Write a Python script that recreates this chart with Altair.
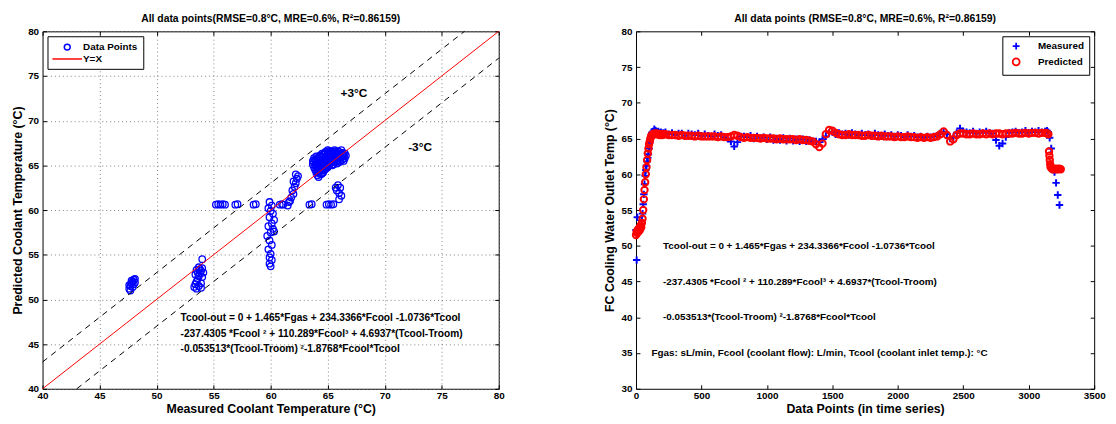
import altair as alt
import pandas as pd

FONT = "Liberation Sans"

# ---------------- Left panel data (measured vs predicted) ----------------
cluster1_meas = [47.6, 47.7, 47.8, 47.9, 48.0, 48.1, 47.7, 47.9, 48.0, 47.8, 47.6, 48.1]
cluster1_pred = [51.2, 51.5, 51.8, 52.0, 52.2, 52.3, 51.0, 51.4, 51.7, 52.1, 51.6, 51.9]
cluster2_meas = [53.3, 53.4, 53.5, 53.6, 53.7, 53.8, 53.9, 54.0, 53.5, 53.7, 53.9, 54.0, 53.4, 53.6, 53.8, 54.1, 53.5, 53.7, 54.0, 53.9]
cluster2_pred = [51.4, 51.7, 52.0, 52.3, 52.6, 52.9, 53.2, 53.5, 51.2, 51.5, 51.8, 52.5, 52.8, 53.0, 53.4, 53.0, 53.3, 53.6, 54.5, 51.3]
row_meas = [55.2, 55.4, 55.6, 55.8, 56.0, 56.9, 57.1, 58.5, 58.7, 60.8, 61.0, 63.4, 63.6, 64.9, 65.1, 65.3, 65.5]
row_pred = [60.6, 60.65, 60.6, 60.65, 60.6, 60.6, 60.65, 60.6, 60.65, 60.6, 60.65, 60.6, 60.65, 60.6, 60.65, 60.6, 60.65]
col_meas = [59.9, 60.1, 59.8, 60.0, 60.2, 59.9, 60.3, 60.1, 59.8, 60.2, 60.0, 59.7, 59.9, 60.1, 59.8, 60.0, 59.9, 60.1, 59.9, 60.0, 60.3]
col_pred = [60.9, 60.5, 60.2, 59.9, 59.6, 59.2, 58.9, 58.5, 58.2, 57.9, 57.5, 57.1, 56.6, 56.1, 55.6, 55.1, 54.7, 54.4, 54.0, 53.7, 57.6]
diag_meas = [61.1, 61.5, 61.7, 61.8, 62.0, 61.9, 62.1, 62.2, 62.0, 62.3, 62.4, 62.2, 61.6]
diag_pred = [60.6, 60.5, 61.0, 61.4, 61.8, 62.2, 62.6, 63.0, 63.2, 63.5, 63.8, 64.0, 60.9]
side_meas = [65.9, 66.1, 65.8, 66.0, 66.2, 66.0, 65.7]
side_pred = [62.8, 62.5, 62.2, 61.9, 61.6, 61.2, 62.5]
main_meas = [64.8, 65.1, 65.4, 65.7, 66.0, 66.3,
             64.3, 64.6, 64.9, 65.2, 65.5, 65.8, 66.1, 66.4, 66.6,
             63.8, 64.1, 64.4, 64.7, 65.0, 65.3, 65.6, 65.9, 66.2, 66.5,
             63.7, 64.0, 64.3, 64.6, 64.9, 65.2, 65.5, 65.8, 66.1, 66.4,
             63.7, 64.0, 64.3, 64.6, 64.9, 65.2, 65.5, 65.8,
             63.8, 64.1, 64.4, 64.7, 65.0,
             63.9, 64.2, 64.5, 64.8,
             64.0, 64.3, 64.6,
             64.1, 64.4,
             64.2]
main_pred = [66.5, 66.6, 66.5, 66.6, 66.5, 66.4,
             66.1, 66.2, 66.1, 66.2, 66.1, 66.2, 66.1, 66.2, 66.1,
             65.8, 65.8, 65.9, 65.8, 65.9, 65.8, 65.9, 65.8, 65.9, 65.8,
             65.5, 65.5, 65.4, 65.5, 65.4, 65.5, 65.4, 65.5, 65.4, 65.5,
             65.1, 65.2, 65.1, 65.2, 65.1, 65.2, 65.1, 65.2,
             64.8, 64.9, 64.8, 64.9, 64.8,
             64.5, 64.6, 64.5, 64.6,
             64.2, 64.3, 64.2,
             63.9, 64.0,
             63.7]
main2_meas = [65.0, 65.3, 65.6, 65.9, 66.2,
              64.5, 64.8, 65.1, 65.4, 65.7, 66.0, 66.3, 66.5,
              64.0, 64.3, 64.6, 64.9, 65.2, 65.5, 65.8, 66.1, 66.4,
              63.9, 64.2, 64.5, 64.8, 65.1, 65.4, 65.7, 66.0, 66.3,
              63.8, 64.1, 64.4, 64.7, 65.0, 65.3, 65.6, 65.9,
              63.9, 64.2, 64.5, 64.8, 65.1, 65.4,
              64.0, 64.3, 64.6, 64.9,
              64.1, 64.4, 64.7,
              64.2, 64.5]
main2_pred = [66.7, 66.6, 66.7, 66.6, 66.7,
              66.3, 66.35, 66.3, 66.35, 66.3, 66.35, 66.3, 66.35,
              66.0, 65.95, 66.0, 65.95, 66.0, 65.95, 66.0, 65.95, 66.0,
              65.65, 65.6, 65.65, 65.6, 65.65, 65.6, 65.65, 65.6, 65.65,
              65.35, 65.3, 65.35, 65.3, 65.35, 65.3, 65.35, 65.3,
              65.05, 65.0, 65.05, 65.0, 65.05, 65.0,
              64.75, 64.7, 64.75, 64.7,
              64.45, 64.4, 64.45,
              64.15, 64.1]

left_ticks = [40, 45, 50, 55, 60, 65, 70, 75, 80]
yx_line = [40, 80]
plus3_x = [40, 77]
plus3_y = [43, 80]
minus3_x = [43, 80]
minus3_y = [40, 77]
band_labels = ["+3°C", "-3°C"]
band_label_x = [67.3, 73.1]
band_label_y = [73.1, 67.0]
eq_lines = ["Tcool-out = 0 + 1.465*Fgas + 234.3366*Fcool -1.0736*Tcool",
            "-237.4305 *Fcool ² + 110.289*Fcool³ + 4.6937*(Tcool-Troom)",
            "-0.053513*(Tcool-Troom) ²-1.8768*Fcool*Tcool"]
eq_left_x = [52.1, 52.1, 52.1]
eq_left_y = [47.9, 46.15, 44.4]

# ---------------- Right panel data (time series) ----------------
start_idx = [0, 5, 10, 15, 20, 25, 30, 35, 40, 45, 50, 55, 60, 65, 70, 75, 80, 85, 90, 95,
             100, 105, 110, 115, 120, 130, 140, 150, 160, 170, 180, 190, 200, 210]
pred_start = [51.5, 52.0, 51.8, 52.3, 52.0, 52.5, 52.2, 52.8, 52.6, 53.2, 53.8, 55.0, 56.5, 57.8, 58.9, 60.0, 61.0, 62.0, 62.9, 63.6,
              64.2, 64.6, 65.0, 65.3, 65.5, 65.6, 65.7, 65.6, 65.7, 65.6, 65.5, 65.6, 65.5, 65.6]
meas_start = [52.2, 48.0, 54.0, 51.8, 52.3, 52.0, 52.6, 52.4, 53.0, 53.5, 54.5, 55.8, 57.2, 58.6, 59.8, 60.6, 61.2, 61.8, 62.3, 62.8,
              63.6, 64.4, 65.0, 65.5, 65.8, 66.0, 66.3, 66.1, 65.9, 66.0, 65.8, 65.9, 65.7, 65.8]

flat_idx = list(range(225, 3126, 25))
pred_flat = [65.6, 65.5, 65.5, 65.5, 65.4, 65.5, 65.4, 65.4, 65.4, 65.3,
             65.4, 65.3, 65.3, 65.3, 65.3, 65.3, 65.2, 65.3, 65.2, 65.2,
             65.3, 65.5, 65.4, 65.2, 65.1, 65.2, 65.1, 65.1, 65.1, 65.0,
             65.1, 65.0, 65.0, 65.0, 64.9, 65.0, 64.9, 64.9, 64.9, 64.9,
             64.8, 64.9, 64.8, 64.8, 64.7, 64.6, 64.2, 63.8, 64.3, 65.6,
             66.2, 66.1, 65.8, 65.6, 65.5, 65.5, 65.6, 65.5, 65.5, 65.5,
             65.4, 65.4, 65.5, 65.4, 65.4, 65.3, 65.4, 65.3, 65.3, 65.3,
             65.2, 65.3, 65.2, 65.2, 65.3, 65.2, 65.2, 65.1, 65.2, 65.1,
             65.2, 65.1, 65.2, 65.3, 65.6, 66.0, 65.5, 64.6, 64.9, 65.5,
             65.7, 65.7, 65.6, 65.6, 65.7, 65.6, 65.6, 65.7, 65.6, 65.7,
             65.6, 65.7, 65.7, 65.6, 65.7, 65.7, 65.7, 65.8, 65.7, 65.7,
             65.8, 65.7, 65.8, 65.8, 65.7, 65.8, 65.8]
meas_flat = [65.9, 65.6, 65.8, 65.5, 65.7, 65.7, 65.4, 65.7, 65.6, 65.5,
             65.7, 65.4, 65.6, 65.4, 65.3, 65.6, 65.4, 65.5, 65.2, 65.0,
             64.6, 63.9, 64.5, 65.3, 65.3, 65.2, 65.4, 65.0, 65.3, 65.1,
             65.2, 64.9, 65.2, 64.8, 65.0, 64.8, 65.1, 64.7, 65.0, 64.7,
             64.9, 64.6, 64.9, 64.6, 64.8, 64.6, 64.6, 64.5, 64.9, 65.3,
             65.8, 65.9, 65.6, 65.8, 65.6, 65.7, 65.5, 65.8, 65.6, 65.5,
             65.7, 65.5, 65.6, 65.4, 65.7, 65.5, 65.4, 65.6, 65.4, 65.5,
             65.3, 65.5, 65.4, 65.2, 65.5, 65.3, 65.4, 65.2, 65.3, 65.1,
             65.3, 65.2, 65.3, 65.4, 65.7, 65.9, 65.6, 65.0, 65.2, 65.8,
             66.4, 66.0, 65.9, 65.8, 66.0, 65.7, 65.9, 65.8, 66.0, 65.8,
             65.7, 64.8, 64.0, 64.3, 65.2, 65.8, 65.9, 66.0, 65.8, 65.9,
             66.1, 65.8, 66.0, 65.9, 66.1, 65.9, 66.0]

pred_end_idx = [3140, 3150, 3155, 3158, 3161, 3164, 3167, 3175, 3185, 3195, 3205, 3215, 3225, 3235, 3245]
pred_end = [65.7, 65.6, 63.2, 62.6, 62.0, 61.4, 61.0, 60.8, 60.7, 60.8, 60.7, 60.8, 60.7, 60.8, 60.7]
meas_end_idx = [3140, 3150, 3160, 3172, 3186, 3197, 3209, 3222, 3235]
meas_end = [66.1, 65.9, 65.1, 63.6, 61.0, 60.3, 58.8, 57.1, 55.7]

right_x_ticks = [0, 500, 1000, 1500, 2000, 2500, 3000, 3500]
right_y_ticks = [30, 35, 40, 45, 50, 55, 60, 65, 70, 75, 80]
eq_right_lines = eq_lines + ["Fgas: sL/min,  Fcool (coolant flow): L/min, Tcool (coolant inlet temp.): °C"]
eq_right_x = [206, 206, 206, 118]
eq_right_y = [50, 45, 40, 35]

# ---------------- Build tables ----------------
left_pts = pd.DataFrame({
    "measured": cluster1_meas + cluster2_meas + row_meas + col_meas + diag_meas + side_meas + main_meas + main2_meas,
    "predicted": cluster1_pred + cluster2_pred + row_pred + col_pred + diag_pred + side_pred + main_pred + main2_pred,
})
left_pts["series"] = "Data Points"
yx_df = pd.DataFrame({"x": yx_line, "y": yx_line, "series": ["Y=X", "Y=X"]})
p3_df = pd.DataFrame({"x": plus3_x, "y": plus3_y})
m3_df = pd.DataFrame({"x": minus3_x, "y": minus3_y})
band_df = pd.DataFrame({"x": band_label_x, "y": band_label_y, "t": band_labels})
eqL_df = pd.DataFrame({"x": eq_left_x, "y": eq_left_y, "t": eq_lines})

meas_df = pd.DataFrame({"idx": start_idx + flat_idx + meas_end_idx,
                        "val": meas_start + meas_flat + meas_end})
meas_df["kind"] = "Measured"
pred_df = pd.DataFrame({"idx": start_idx + flat_idx + pred_end_idx,
                        "val": pred_start + pred_flat + pred_end})
pred_df["kind"] = "Predicted"
eqR_df = pd.DataFrame({"x": eq_right_x, "y": eq_right_y, "t": eq_right_lines})

CIRCLE = "M0.6,0A0.6,0.6,0,1,1,-0.6,0A0.6,0.6,0,1,1,0.6,0Z"
HLINE = "M-3,0H3"
PLUS = "M-1,0H1M0,-1V1"


def inner_axis(orient, values):
    return alt.Axis(orient=orient, values=values, labels=False, ticks=True, tickSize=4,
                    offset=-4, domain=False, grid=False, title=None,
                    tickColor="black", tickWidth=1)


# ---------------- Left chart ----------------
lx = alt.Scale(domain=[40, 80], nice=False)
ly = alt.Scale(domain=[40, 80], nice=False)
l_color = alt.Scale(domain=["Data Points", "Y=X"], range=["#0000ff", "#ff0000"])
l_shape = alt.Scale(domain=["Data Points", "Y=X"], range=[CIRCLE, HLINE])
l_legend = alt.Legend(title=None, orient="top-left", offset=5, symbolSize=100,
                      symbolOffset=9, labelOffset=10, rowPadding=0, padding=5,
                      symbolStrokeWidth=1.5)

L1 = alt.Chart(left_pts).mark_point(filled=False, size=121, strokeWidth=1.3, opacity=1).encode(
    x=alt.X("measured:Q", scale=lx,
            axis=alt.Axis(orient="bottom", values=left_ticks, ticks=False, domain=False, grid=True,
                          title="Measured Coolant Temperature (°C)", labelPadding=2, titlePadding=2,
                          labelFlush=False, format="d")),
    y=alt.Y("predicted:Q", scale=ly,
            axis=alt.Axis(orient="left", values=left_ticks, ticks=False, domain=False, grid=True,
                          title="Predicted Coolant Temperature (°C)", labelPadding=4, titlePadding=3,
                          labelFlush=False, format="d")),
    color=alt.Color("series:N", scale=l_color, legend=l_legend),
    shape=alt.Shape("series:N", scale=l_shape, legend=l_legend),
)
L2 = alt.Chart(yx_df).mark_line(strokeWidth=1).encode(
    x=alt.X("x:Q", scale=lx, axis=inner_axis("top", left_ticks)),
    y=alt.Y("y:Q", scale=ly, axis=inner_axis("right", left_ticks)),
    color=alt.Color("series:N", scale=l_color, legend=l_legend),
)
L3 = alt.Chart(p3_df).mark_line(strokeWidth=1, strokeDash=[6, 5], color="black").encode(
    x=alt.X("x:Q", scale=lx, axis=inner_axis("bottom", left_ticks)),
    y=alt.Y("y:Q", scale=ly, axis=inner_axis("left", left_ticks)),
)
L4 = alt.Chart(m3_df).mark_line(strokeWidth=1, strokeDash=[6, 5], color="black").encode(
    x=alt.X("x:Q", scale=lx, axis=None),
    y=alt.Y("y:Q", scale=ly, axis=None),
)
L5 = alt.Chart(band_df).mark_text(font=FONT, fontSize=12, fontWeight="bold", color="black").encode(
    x=alt.X("x:Q", scale=lx, axis=None),
    y=alt.Y("y:Q", scale=ly, axis=None),
    text="t:N",
)
L6 = alt.Chart(eqL_df).mark_text(font=FONT, fontSize=10.3, fontWeight="bold", color="black",
                                 align="left", baseline="middle").encode(
    x=alt.X("x:Q", scale=lx, axis=None),
    y=alt.Y("y:Q", scale=ly, axis=None),
    text="t:N",
)
left = alt.layer(L1, L2, L3, L4, L5, L6).resolve_axis(x="independent", y="independent").properties(
    width=462, height=362,
    title=alt.TitleParams("All data points(RMSE=0.8°C, MRE=0.6%,  R²=0.86159)", font=FONT,
                          fontSize=10.5, fontWeight="bold", offset=2, anchor="middle"),
)

# ---------------- Right chart ----------------
rx = alt.Scale(domain=[0, 3500], nice=False)
ry = alt.Scale(domain=[30, 80], nice=False)
r_color = alt.Scale(domain=["Measured", "Predicted"], range=["#0000ff", "#ff0000"])
r_shape = alt.Scale(domain=["Measured", "Predicted"], range=[PLUS, "circle"])
r_legend = alt.Legend(title=None, orient="top-right", offset=5, symbolSize=49,
                      symbolOffset=4, labelOffset=17, rowPadding=0, padding=5,
                      symbolStrokeWidth=1.8)

R1 = alt.Chart(meas_df).mark_point(filled=False, size=56, strokeWidth=2, opacity=1).encode(
    x=alt.X("idx:Q", scale=rx,
            axis=alt.Axis(orient="bottom", values=right_x_ticks, ticks=False, domain=False, grid=False,
                          title="Data Points (in time series)", labelPadding=2, titlePadding=2,
                          labelFlush=False, format="d")),
    y=alt.Y("val:Q", scale=ry,
            axis=alt.Axis(orient="left", values=right_y_ticks, ticks=False, domain=False, grid=False,
                          title="FC Cooling Water Outlet Temp (°C)", labelPadding=4, titlePadding=5,
                          labelFlush=False, format="d")),
    color=alt.Color("kind:N", scale=r_color, legend=r_legend),
    shape=alt.Shape("kind:N", scale=r_shape, legend=r_legend),
)
R2 = alt.Chart(pred_df).mark_point(filled=False, size=42, strokeWidth=2, opacity=1).encode(
    x=alt.X("idx:Q", scale=rx, axis=inner_axis("top", right_x_ticks)),
    y=alt.Y("val:Q", scale=ry, axis=inner_axis("right", right_y_ticks)),
    color=alt.Color("kind:N", scale=r_color, legend=r_legend),
    shape=alt.Shape("kind:N", scale=r_shape, legend=r_legend),
)
R3 = alt.Chart(eqR_df).mark_text(font=FONT, fontSize=10, fontWeight="bold", color="black",
                                 align="left", baseline="middle").encode(
    x=alt.X("x:Q", scale=rx, axis=inner_axis("bottom", right_x_ticks)),
    y=alt.Y("y:Q", scale=ry, axis=inner_axis("left", right_y_ticks)),
    text="t:N",
)
right = alt.layer(R1, R2, R3).resolve_axis(x="independent", y="independent").properties(
    width=464, height=362,
    title=alt.TitleParams("All data points (RMSE=0.8°C, MRE=0.6%,  R²=0.86159)", font=FONT,
                          fontSize=10.5, fontWeight="bold", offset=2, anchor="middle"),
)

chart = alt.hconcat(left, right, spacing=98).resolve_scale(
    color="independent", shape="independent"
).resolve_legend(color="independent", shape="independent").configure(
    padding={"left": 3, "top": 3, "right": 2, "bottom": 2},
    background="white",
).configure_view(stroke="black", strokeWidth=1).configure_axis(
    labelFont=FONT, labelFontSize=10, labelFontWeight="bold", labelColor="black",
    titleFont=FONT, titleFontSize=12.5, titleFontWeight="bold", titleColor="black",
    gridColor="#808080", gridDash=[1, 3], gridWidth=1, gridOpacity=1,
).configure_legend(
    strokeColor="black", strokeWidth=1, fillColor="white",
    labelFont=FONT, labelFontSize=10, labelFontWeight="bold", labelColor="black",
)

chart.save("out.html", embed_options={"renderer": "svg", "actions": False})
